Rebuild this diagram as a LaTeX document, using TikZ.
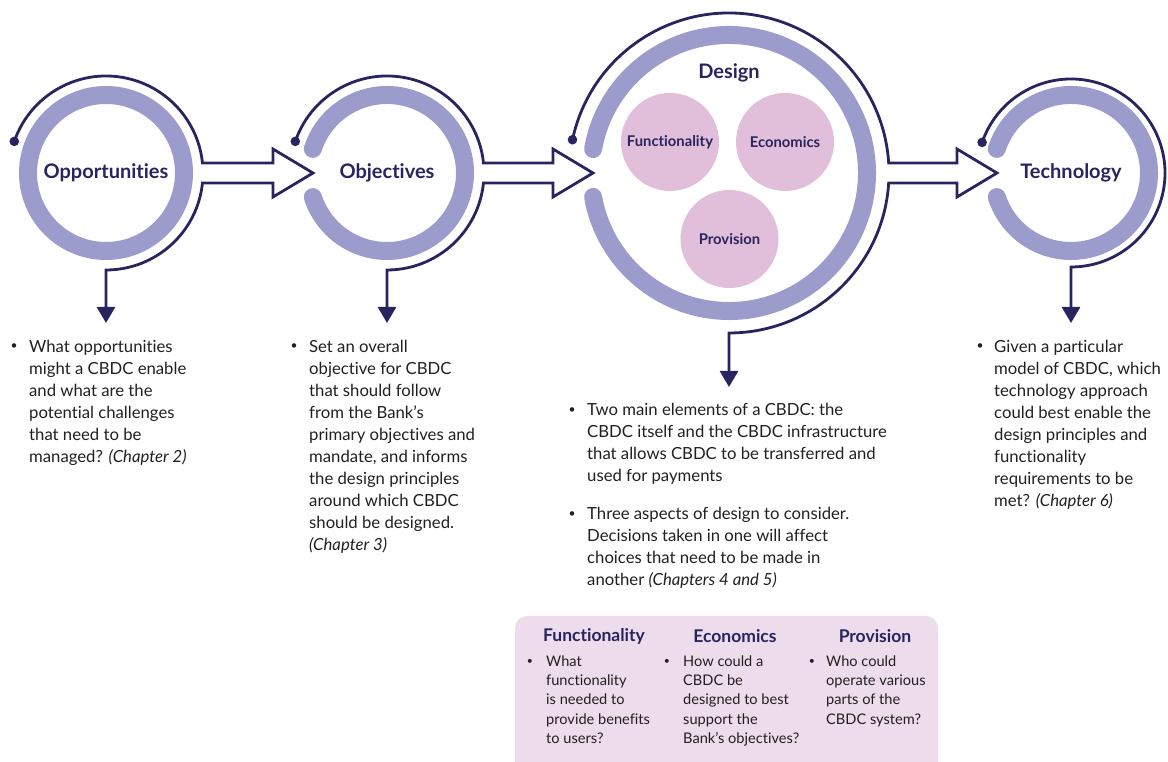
\documentclass[tikz,border=0pt]{standalone}
\usepackage{fontspec}
\setmainfont{Lato}[Ligatures=NoCommon]
\usetikzlibrary{arrows.meta,calc}
\definecolor{navy}{HTML}{28245F}
\definecolor{ringc}{HTML}{9B9BCC}
\definecolor{pinkfill}{HTML}{E1BEDA}
\definecolor{boxfill}{HTML}{EDDCEB}
\definecolor{bodyc}{HTML}{231F20}
\begin{document}
\begin{tikzpicture}[x=1pt,y=1pt,
  ring/.style={draw=ringc,line width=18pt,line cap=round},
  flow/.style={draw=navy,line width=2.8pt,line join=miter,-{Triangle[width=18pt,length=16pt]}},
  biglabel/.style={font=\fontsize{20pt}{22pt}\selectfont\bfseries,text=navy,inner sep=0pt},
  pinkcirc/.style={circle,fill=pinkfill,minimum size=98pt,inner sep=0pt,font=\fontsize{14.8pt}{16pt}\selectfont\bfseries,text=navy},
  body/.style={font=\fontsize{16.7pt}{22pt}\selectfont,text=bodyc,align=left,anchor=north west,inner sep=0pt},
  bul/.style={font=\fontsize{12pt}{22pt}\selectfont,text=bodyc,anchor=north,inner sep=0pt,yshift=2.5pt},
  boxhead/.style={font=\fontsize{17.5pt}{19pt}\selectfont\bfseries,text=navy,inner sep=0pt},
  boxbody/.style={font=\fontsize{14.6pt}{19.3pt}\selectfont,text=bodyc,align=left,anchor=north west,inner sep=0pt},
  boxbul/.style={font=\fontsize{10.5pt}{19.3pt}\selectfont,text=bodyc,anchor=north,inner sep=0pt,yshift=1.7pt}]
\useasboundingbox (0,0) rectangle (1168,762);

% centres
\coordinate (c1) at (106,589);
\coordinate (c2) at (387,589);
\coordinate (c3) at (729,589);
\coordinate (c4) at (1071,589);
% hollow arrow tips
\coordinate (t1) at (313,589);
\coordinate (t2) at (593,589);
\coordinate (t3) at (997,589);

% rings
\draw[ring] (c1) circle (78pt);
\draw[ring] ($(c2)+(162:78pt)$) arc[start angle=162,end angle=-162,radius=78pt];
\draw[ring] ($(c3)+(170:138pt)$) arc[start angle=170,end angle=-170,radius=138pt];
\draw[ring] ($(c4)+(162:78pt)$) arc[start angle=162,end angle=-162,radius=78pt];

% dark flow lines
\fill[navy] ($(c1)+(161:97pt)$) circle (4.8pt);
\draw[flow] ($(c1)+(161:97pt)$) arc[start angle=161,end angle=5.9,radius=97pt]
  -- ($(t1)+(-40,10)$) -- ($(t1)+(-40,24)$) -- (t1) -- ($(t1)+(-40,-24)$) -- ($(t1)+(-40,-10)$)
  -- ($(c1)+(-5.9:97pt)$) arc[start angle=-5.9,end angle=-90,radius=97pt] -- ++(0,-53) coordinate (d1);

\fill[navy] ($(c2)+(161:97pt)$) circle (4.8pt);
\draw[flow] ($(c2)+(161:97pt)$) arc[start angle=161,end angle=5.9,radius=97pt]
  -- ($(t2)+(-40,10)$) -- ($(t2)+(-40,24)$) -- (t2) -- ($(t2)+(-40,-24)$) -- ($(t2)+(-40,-10)$)
  -- ($(c2)+(-5.9:97pt)$) arc[start angle=-5.9,end angle=-90,radius=97pt] -- ++(0,-53) coordinate (d2);

\fill[navy] ($(c3)+(168:160pt)$) circle (4.8pt);
\draw[flow] ($(c3)+(168:160pt)$) arc[start angle=168,end angle=3.58,radius=160pt]
  -- ($(t3)+(-40,10)$) -- ($(t3)+(-40,24)$) -- (t3) -- ($(t3)+(-40,-24)$) -- ($(t3)+(-40,-10)$)
  -- ($(c3)+(-3.58:160pt)$) arc[start angle=-3.58,end angle=-90,radius=160pt] -- ++(0,-54) coordinate (d3);

\fill[navy] ($(c4)+(161:94pt)$) circle (4.8pt);
\draw[flow] ($(c4)+(161:94pt)$) arc[start angle=161,end angle=-90,radius=94pt] -- ++(0,-56) coordinate (d4);

% labels
\node[biglabel] (opp) at (c1) {Opportunities};
\node[biglabel] (obj) at (c2) {Objectives};
\node[biglabel] (des) at (729,689) {Design};
\node[biglabel] (tec) at (c4) {Technology};
\node[pinkcirc] (fun) at (670,620) {Functionality};
\node[pinkcirc] (eco) at (785,620) {Economics};
\node[pinkcirc] (pro) at (729.5,523) {Provision};

% text blocks
\node[bul] (b1b) at (14,425.4) {\strut\textbullet};
\node[body] (b1) at (29,425.4) {\strut What opportunities\\might a CBDC enable\\and what are the\\potential challenges\\that need to be\\managed? \textit{(Chapter 2)}};

\node[bul] (b2b) at (294,425.4) {\strut\textbullet};
\node[body] (b2) at (309,425.4) {\strut Set an overall\\objective for CBDC\\that should follow\\from the Bank’s\\primary objectives and\\mandate, and informs\\the design principles\\around which CBDC\\should be designed.\\\textit{(Chapter 3)}};

\node[bul] (b3b) at (572,361.9) {\strut\textbullet};
\node[body] (b3) at (587,361.9) {\strut Two main elements of a CBDC: the\\CBDC itself and the CBDC infrastructure\\that allows CBDC to be transferred and\\used for payments};
\node[bul] (b5b) at (572,257.9) {\strut\textbullet};
\node[body] (b5) at (587,257.9) {\strut Three aspects of design to consider.\\Decisions taken in one will affect\\choices that need to be made in\\another \textit{(Chapters 4 and 5)}};

\node[bul] (b4b) at (980,425.4) {\strut\textbullet};
\node[body] (b4) at (994,425.4) {\strut Given a particular\\model of CBDC, which\\technology approach\\could best enable the\\design principles and\\functionality\\requirements to be\\met? \textit{(Chapter 6)}};

% bottom box
\fill[boxfill,rounded corners=12pt] (515,-2) -- (515,146) -- (938,146) -- (938,-2);
\node[boxhead] (h1) at (594,126) {Functionality};
\node[boxhead] (h2) at (735,126) {Economics};
\node[boxhead] (h3) at (875,126) {Provision};
\node[boxbul] (k1b) at (530,109.5) {\strut\textbullet};
\node[boxbody] (k1) at (546,109.5) {\strut What\\functionality\\is needed to\\provide benefits\\to users?};
\node[boxbul] (k2b) at (667,109.5) {\strut\textbullet};
\node[boxbody] (k2) at (683,109.5) {\strut How could a\\CBDC be\\designed to best\\support the\\Bank’s objectives?};
\node[boxbul] (k3b) at (812,109.5) {\strut\textbullet};
\node[boxbody] (k3) at (826,109.5) {\strut Who could\\operate various\\parts of the\\CBDC system?};
\end{tikzpicture}
\end{document}
